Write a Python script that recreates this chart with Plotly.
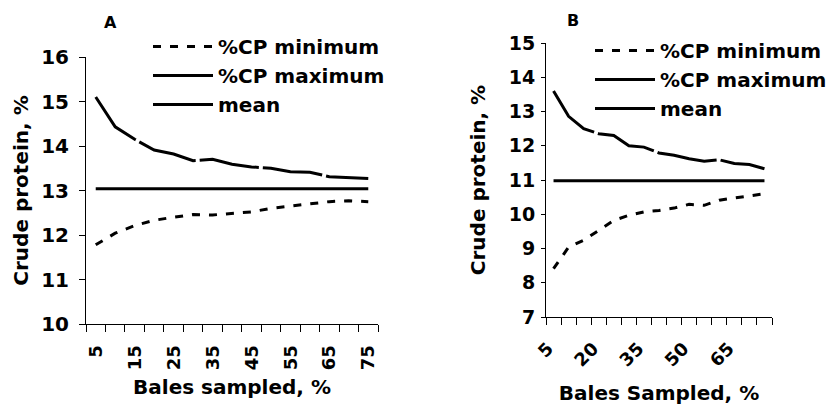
import plotly.graph_objects as go

# ---------------- data ----------------
bales_pct = [5, 10, 15, 20, 25, 30, 35, 40, 45, 50, 55, 60, 65, 70, 75]

a_min = [11.78, 12.04, 12.21, 12.33, 12.40, 12.46, 12.45, 12.49, 12.52, 12.60, 12.65, 12.70, 12.75, 12.77, 12.75]
a_max = [15.10, 14.43, 14.15, 13.91, 13.82, 13.67, 13.70, 13.59, 13.53, 13.50, 13.42, 13.41, 13.31, 13.29, 13.27]
a_mean = [13.04] * 15

b_min = [8.41, 9.04, 9.24, 9.53, 9.82, 9.97, 10.07, 10.11, 10.18, 10.29, 10.26, 10.41, 10.47, 10.55, 10.60]
b_max = [13.60, 12.86, 12.50, 12.35, 12.30, 12.00, 11.96, 11.79, 11.72, 11.62, 11.55, 11.59, 11.48, 11.45, 11.33]
b_mean = [10.98] * 15

a_label_every = 2   # label every 2nd category (5, 15, 25, ...)
b_label_every = 3   # label every 3rd category (5, 20, 35, ...)
series_names = ["%CP minimum", "%CP maximum", "mean"]

FONT = "DejaVu Sans, Liberation Sans, Arial, sans-serif"
W, H = 832, 409

# category boundaries (ticks sit between categories, labels centred on categories)
step = bales_pct[1] - bales_pct[0]
bounds = [v - step / 2 for v in bales_pct] + [bales_pct[-1] + step / 2]


def boundary_labels(every):
    return [str(bales_pct[i]) if (i < len(bales_pct) and i % every == 0) else ""
            for i in range(len(bounds))]


fig = go.Figure()

dashes = ["8px,9px", "60px,4px", "solid"]

for i, (name, ys) in enumerate(zip(series_names, [a_min, a_max, a_mean])):
    fig.add_trace(go.Scatter(x=bales_pct, y=ys, mode="lines", name=name,
                             line=dict(color="black", width=3, dash=dashes[i]),
                             xaxis="x", yaxis="y", legend="legend"))
for i, (name, ys) in enumerate(zip(series_names, [b_min, b_max, b_mean])):
    fig.add_trace(go.Scatter(x=bales_pct, y=ys, mode="lines", name=name,
                             line=dict(color="black", width=3, dash=dashes[i]),
                             xaxis="x2", yaxis="y2", legend="legend2"))

tickfont_y = dict(family=FONT, size=20, color="black", weight="bold")
tickfont_x = dict(family=FONT, size=18, color="black", weight="bold")
titlefont = dict(family=FONT, size=20, color="black", weight="bold")
legendfont = dict(family=FONT, size=20, color="black", weight="bold")

a_dom = [86 / W, 378 / W]
b_dom = [546 / W, 772 / W]
a_cat_px = (a_dom[1] - a_dom[0]) * W / len(bales_pct)

common_x = dict(range=[bounds[0], bounds[-1]], showline=True, linecolor="black", linewidth=1,
                showgrid=False, zeroline=False, ticks="outside", ticklen=7,
                tickcolor="black", tickwidth=1, automargin=False,
                tickmode="array", tickvals=bounds)
common_y = dict(showline=True, linecolor="black", linewidth=1, showgrid=False,
                zeroline=False, ticks="outside", ticklen=6, tickcolor="black", dtick=1,
                automargin=False)

fig.update_layout(
    width=W, height=H,
    margin=dict(l=0, r=0, t=0, b=0, autoexpand=False),
    paper_bgcolor="white", plot_bgcolor="white",
    xaxis=dict(common_x, domain=a_dom, anchor="y",
               ticktext=boundary_labels(a_label_every),
               ticklabelshift=int(round(a_cat_px / 2)),
               tickangle=-90, tickfont=tickfont_x, ticklabelstandoff=6,
               title=dict(text="Bales sampled, %", font=titlefont, standoff=10)),
    yaxis=dict(common_y, domain=[1 - 324 / H, 1 - 57 / H], anchor="x", range=[10, 16],
               tickfont=tickfont_y, ticklabelstandoff=6,
               title=dict(text="Crude protein, %", font=titlefont, standoff=7)),
    xaxis2=dict(common_x, domain=b_dom, anchor="y2",
                ticktext=boundary_labels(b_label_every),
                ticklabelshift=2,
                tickangle=-45, tickfont=tickfont_x, ticklabelstandoff=6,
                title=dict(text="Bales Sampled, %", font=titlefont, standoff=16)),
    yaxis2=dict(common_y, domain=[1 - 317 / H, 1 - 43 / H], anchor="x2", range=[7, 15],
                ticklen=4, tickfont=dict(tickfont_y, size=19), ticklabelstandoff=2,
                title=dict(text="Crude protein, %", font=titlefont, standoff=17)),
    legend=dict(x=148 / W, y=1 - 27 / H, xanchor="left", yanchor="top",
                bgcolor="rgba(0,0,0,0)", itemwidth=60, tracegroupgap=0,
                font=legendfont),
    legend2=dict(x=590 / W, y=1 - 31 / H, xanchor="left", yanchor="top",
                 bgcolor="rgba(0,0,0,0)", itemwidth=60, tracegroupgap=0,
                 font=legendfont),
    annotations=[
        dict(text="A", x=110 / W, y=1 - 22 / H, xref="paper", yref="paper",
             xanchor="center", yanchor="middle",
             showarrow=False, font=dict(family=FONT, size=16, color="black", weight="bold")),
        dict(text="B", x=573 / W, y=1 - 20 / H, xref="paper", yref="paper",
             xanchor="center", yanchor="middle",
             showarrow=False, font=dict(family=FONT, size=16, color="black", weight="bold")),
    ],
)

fig.write_html("out.html")
